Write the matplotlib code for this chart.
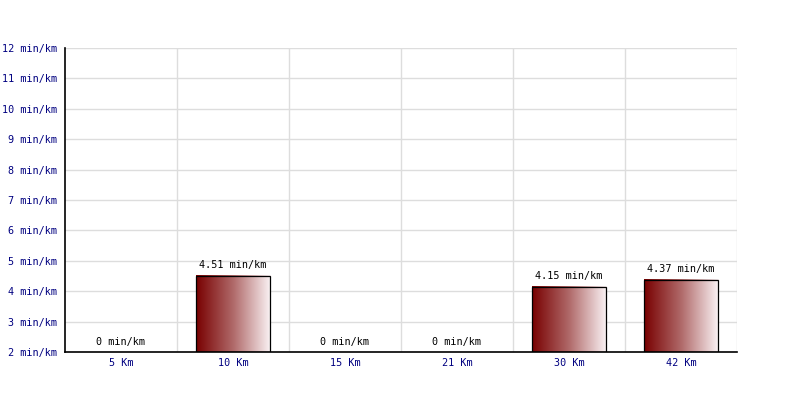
import matplotlib
matplotlib.use("Agg")
import matplotlib.pyplot as plt
import numpy as np
from matplotlib.colors import LinearSegmentedColormap
from matplotlib.patches import Rectangle

categories = ["5 Km", "10 Km", "15 Km", "21 Km", "30 Km", "42 Km"]
values = [0, 4.51, 0, 0, 4.15, 4.37]
labels = ["0 min/km", "4.51 min/km", "0 min/km", "0 min/km", "4.15 min/km", "4.37 min/km"]
yticks = list(range(2, 13))
ytick_labels = [f"{v} min/km" for v in yticks]

font = "DejaVu Sans Mono"
fs = 7.3
navy = "#000080"

fig = plt.figure(figsize=(8, 4), dpi=100)
ax = fig.add_axes([65/800, 48/400, 672/800, 304/400])
ax.set_xlim(0, len(categories))
ax.set_ylim(2, 12)

cmap = LinearSegmentedColormap.from_list("g", ["#780000", "#b06a6a", "#fbf4f6"])
grad = np.linspace(0, 1, 256).reshape(1, -1)
bw = 0.665
for i, (v, lab) in enumerate(zip(values, labels)):
    c = i + 0.5
    if v > 2:
        ax.imshow(grad, cmap=cmap, aspect="auto", extent=[c - bw/2, c + bw/2, 2, v], zorder=2, interpolation="bilinear")
        ax.add_patch(Rectangle((c - bw/2, 2), bw, v - 2, fill=False, edgecolor="black", linewidth=0.9, zorder=3))
        ax.text(c, v + 0.18, lab, ha="center", va="bottom", fontsize=fs, family=font, color="black")
    else:
        ax.text(c, 2.18, lab, ha="center", va="bottom", fontsize=fs, family=font, color="black")

ax.set_xlim(0, len(categories))
ax.set_ylim(2, 12)
ax.set_yticks(yticks)
ax.set_yticklabels(ytick_labels, fontsize=fs, family=font, color=navy)
ax.set_xticks([i + 0.5 for i in range(len(categories))])
ax.set_xticklabels(categories, fontsize=fs, family=font, color=navy)
ax.set_xticks(range(1, len(categories) + 1), minor=True)
ax.tick_params(axis="both", which="both", length=0)
ax.tick_params(axis="y", pad=6)
ax.tick_params(axis="x", pad=4)
ax.grid(True, axis="y", color="#dddddd", linewidth=1, zorder=0)
ax.grid(True, axis="x", which="minor", color="#dddddd", linewidth=1, zorder=0)
ax.grid(False, axis="x", which="major")
ax.set_axisbelow(True)
for s in ["top", "right"]:
    ax.spines[s].set_visible(False)
ax.spines["left"].set_color("black")
ax.spines["bottom"].set_color("black")
ax.spines["left"].set_linewidth(1.2)
ax.spines["bottom"].set_linewidth(1.2)

fig.savefig("out.png", dpi=100)
